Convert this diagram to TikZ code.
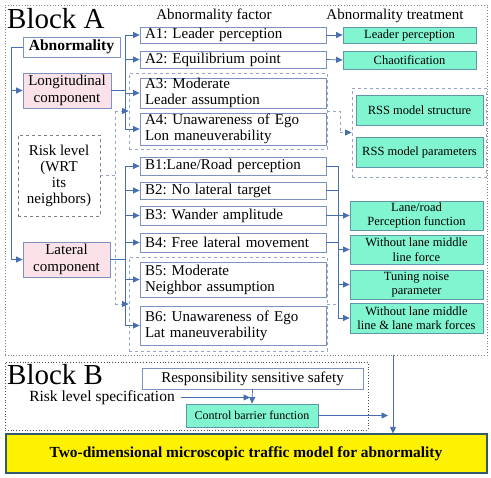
\documentclass[tikz,border=0pt]{standalone}
\usepackage{fontspec}
\setmainfont{Liberation Serif}
\usetikzlibrary{arrows.meta}
\frenchspacing
\definecolor{bordc}{RGB}{125,145,195}
\definecolor{arrc}{RGB}{70,110,180}
\definecolor{grpc}{RGB}{150,165,195}
\definecolor{pinkc}{RGB}{250,226,232}
\definecolor{greenc}{RGB}{128,245,208}
\definecolor{greenb}{RGB}{95,150,170}
\definecolor{yelb}{RGB}{50,90,110}
\newcommand{\fsz}[1]{\fontsize{#1}{#1}\selectfont}
\tikzset{
  fbox/.style={draw=bordc, line width=0.8pt, inner xsep=5pt, inner ysep=0pt,
    text width=176pt, minimum width=186pt, align=left, font=\fontsize{15}{16}\selectfont},
  gbox/.style={draw=greenb, fill=greenc, line width=0.8pt, inner sep=0pt,
    align=center, font=\fontsize{12.5}{14.5}\selectfont},
  pbox/.style={draw=bordc, fill=pinkc, line width=0.8pt, inner sep=0pt,
    align=center, font=\fontsize{15}{16.5}\selectfont},
  dgroup/.style={draw=grpc, dashed, line width=0.8pt, inner sep=0pt},
  arr/.style={draw=arrc, line width=0.7pt, -{Triangle[length=6.5pt,width=6pt]}},
  ln/.style={draw=arrc, line width=0.7pt},
  dln/.style={draw=grpc, line width=0.8pt, dashed},
  darr/.style={draw=grpc, line width=0.8pt, dashed, -{Triangle[length=6.5pt,width=6pt,color=arrc]}},
  lbl/.style={inner sep=0pt, font=\fsz{15}},
}
\begin{document}
\begin{tikzpicture}[x=1pt,y=-1pt]
\useasboundingbox (0,0) rectangle (491,478);
% blocks
\node[draw=gray, dotted, line width=0.8pt, minimum width=482pt, minimum height=350pt, inner sep=0pt] (blockA) at (246,180) {};
\node[draw=black!70, dotted, line width=0.8pt, minimum width=363pt, minimum height=68pt, inner sep=0pt] (blockB) at (186.5,396) {};
\node[draw=yelb, fill=yellow, line width=2pt, minimum width=481pt, minimum height=39pt, inner sep=0pt, font=\bfseries\fsz{15.4}] (yel) at (246,454) {Two-dimensional microscopic traffic model for abnormality};
% titles
\node[anchor=base west, inner sep=0pt, font=\fsz{29}] (tA) at (7,29) {Block A};
\node[anchor=base west, inner sep=0pt, font=\fsz{29}] (tB) at (7,385) {Block B};
\node[lbl] (hf) at (214,16) {Abnormality factor};
\node[lbl] (ht) at (395,16) {Abnormality treatment};
% left nodes
\node[draw=bordc, line width=0.8pt, inner sep=0pt, minimum width=97pt, minimum height=20pt, font=\bfseries\fsz{15.5}] (abn) at (71.5,47) {Abnormality};
\node[pbox, minimum width=88pt, minimum height=35pt] (lon) at (67,90.5) {Longitudinal\\component};
\node[pbox, minimum width=87pt, minimum height=35pt] (lat) at (66.5,259.5) {Lateral\\component};
\node[draw=gray, dashed, line width=0.7pt, inner sep=0pt, minimum width=82pt, minimum height=81pt, align=center, font=\fontsize{15}{16}\selectfont] (risk) at (59,175.5) {Risk level\\(WRT\\its\\neighbors)};
% factor groups
\node[dgroup, minimum width=198pt, minimum height=76pt] (ga) at (228,111) {};
\node[dgroup, minimum width=198pt, minimum height=94pt] (gb) at (228,304) {};
\node[dgroup, minimum width=134pt, minimum height=89pt] (gr) at (419,132.5) {};
% factor boxes
\node[fbox, minimum height=16pt] (a1) at (233,35) {A1: Leader perception};
\node[fbox, minimum height=17pt] (a2) at (233,59.5) {A2: Equilibrium point};
\node[fbox, minimum height=30pt] (a3) at (233,93) {A3: Moderate\\Leader assumption};
\node[fbox, minimum height=32pt] (a4) at (233,129) {A4: Unawareness of Ego\\Lon maneuverability};
\node[fbox, minimum height=18pt] (b1) at (233,166) {B1:Lane/Road perception};
\node[fbox, minimum height=17pt] (b2) at (233,190.5) {B2: No lateral target};
\node[fbox, minimum height=19pt] (b3) at (233,215.5) {B3: Wander amplitude};
\node[fbox, minimum height=19pt] (b4) at (233,242.5) {B4: Free lateral movement};
\node[fbox, minimum height=35pt] (b5) at (233,279.5) {B5: Moderate\\Neighbor assumption};
\node[fbox, minimum height=39pt] (b6) at (233,325.5) {B6: Unawareness of Ego\\Lat maneuverability};
% treatment boxes
\node[gbox, minimum width=133pt, minimum height=16pt] (tlp) at (409.5,35) {Leader perception};
\node[gbox, minimum width=133pt, minimum height=18pt] (tch) at (409.5,60) {Chaotification};
\node[gbox, minimum width=127pt, minimum height=30pt] (trs) at (419.5,110) {RSS model structure};
\node[gbox, minimum width=127pt, minimum height=30pt] (trp) at (419.5,152) {RSS model parameters};
\node[gbox, minimum width=133pt, minimum height=29pt] (tl1) at (416.5,215.5) {Lane/road\\Perception function};
\node[gbox, minimum width=133pt, minimum height=29pt] (tl2) at (416.5,249.5) {Without lane middle\\line force};
\node[gbox, minimum width=133pt, minimum height=29pt] (tl3) at (416.5,284.5) {Tuning noise\\parameter};
\node[gbox, minimum width=133pt, minimum height=30pt] (tl4) at (416.5,318) {Without lane middle\\line \& lane mark forces};
% block B
\node[draw=bordc, line width=0.8pt, inner sep=0pt, minimum width=221pt, minimum height=21pt, font=\fsz{15}] (rss) at (252.5,378.5) {Responsibility sensitive safety};
\node[inner sep=0pt, font=\fsz{15.5}] (rls) at (102,397.5) {Risk level specification};
\node[gbox, minimum width=132pt, minimum height=23pt, font=\fsz{12}] (cbf) at (252,415.5) {Control barrier function};
% coordinates
\coordinate (lb) at (11,47);
\coordinate (fx) at (125,0);
\coordinate (rx) at (115,0);
\coordinate (ex) at (340,0);
\coordinate (bx) at (338,0);
\coordinate (rsj) at (250,397.5);
\coordinate (cbe) at (388,415.5);
\coordinate (va) at (393,355);
% left bus
\draw[ln] (abn.west) -- (lb) -- (lb |- lat.west);
\draw[arr] (lb |- lon.west) -- (lon.west);
\draw[arr] (lb |- lat.west) -- (lat.west);
% longitudinal fan
\draw[ln] (lon.east) -- (fx |- lon.east);
\draw[ln] (fx |- a1.west) -- (fx |- a4.west);
\foreach \n in {a1,a2,a3,a4} \draw[arr] (fx |- \n.west) -- (\n.west);
% lateral fan
\draw[ln] (lat.east) -- (fx |- lat.east);
\draw[ln] (fx |- b1.west) -- (fx |- b6.west);
\foreach \n in {b1,b2,b3,b4,b5,b6} \draw[arr] (fx |- \n.west) -- (\n.west);
% risk level
\draw[dln] (risk.east) -- (rx |- risk.east);
\draw[dln] (rx |- ga.west) -- (rx |- gb.west);
\draw[darr] (rx |- ga.west) -- (ga.west);
\draw[darr] (rx |- gb.west) -- (gb.west);
% treatments
\draw[arr] (a1.east) -- (tlp.west);
\draw[arr] (a2.east) -- (tch.west);
\draw[dln] (ga.east) -- (ex |- ga.east) -- (ex |- gr.west);
\draw[darr] (ex |- gr.west) -- (gr.west);
\foreach \n in {b1,b2,b3,b4} \draw[ln] (\n.east) -- (bx |- \n.east);
\draw[dln] (gb.east) -- (bx |- gb.east);
\draw[ln] (bx |- b1.east) -- (bx |- tl4.west);
\foreach \n in {tl1,tl2,tl3,tl4} \draw[arr] (bx |- \n.west) -- (\n.west);
% block B connectors
\draw[arr] (rls.east) ++(6,0) -- (rsj);
\draw[arr] (rss.south) -- (cbf.north);
\draw[arr] (cbf.east) -- (cbe);
\draw[arr] (va) -- (va |- yel.north);
\end{tikzpicture}
\end{document}
